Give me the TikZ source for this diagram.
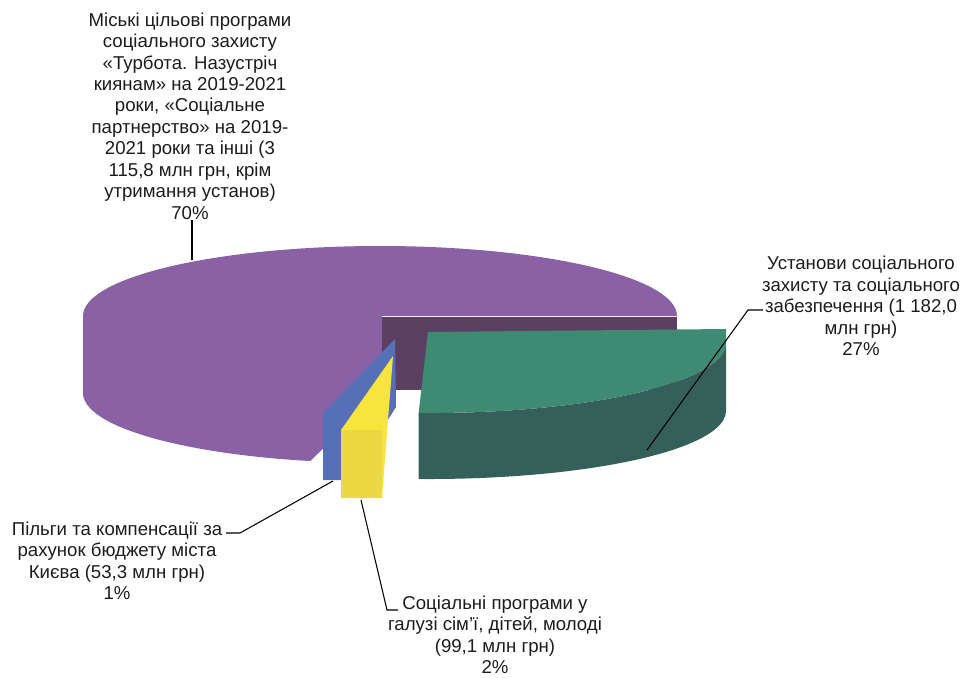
\documentclass[tikz,border=0pt]{standalone}
\usepackage{fontspec}
\setmainfont{Liberation Sans}
\definecolor{purpleslice}{HTML}{8B61A6}
\definecolor{purplecut}{HTML}{5C4062}
\definecolor{greentop}{HTML}{3F8A73}
\definecolor{greenside}{HTML}{35605A}
\definecolor{blueslice}{HTML}{5670B8}
\definecolor{yellowtop}{HTML}{F7E43C}
\definecolor{yellowfront}{HTML}{ECD842}
\definecolor{labeltext}{HTML}{1C1C1C}

\begin{document}
\begin{tikzpicture}[x=0.02cm,y=-0.02cm,
  lbl/.style={align=center,text=labeltext,inner sep=0pt,font=\fontsize{10.6}{12.2}\selectfont},
  leader/.style={line width=0.6pt,black}]
  \useasboundingbox (0,0) rectangle (967,677);
   \coordinate (PurpleTip) at (192,260);
   \coordinate (GreenTip) at (647,450);
   \coordinate (GreenKnee) at (748,310);
   \coordinate (GreenEnd) at (763,310);
   \coordinate (BlueTip) at (333,481);
   \coordinate (BlueKnee) at (240,533);
   \coordinate (BlueEnd) at (226,533);
   \coordinate (YellowTip) at (361,500);
   \coordinate (YellowKnee) at (387,610);
   \coordinate (YellowEnd) at (398,610);
  % big slice, 70%
  \fill[purpleslice] (677,316) arc[start angle=0,end angle=-180,x radius=297,y radius=70]
     -- (83,393) arc[start angle=-180,end angle=-256.4,x radius=297,y radius=70]
     -- (382,392) -- (382,316) -- cycle;
  \fill[purplecut] (382,317) rectangle (677,390);
  % pulled out slice, 27%
  \fill[greentop] (428,332) -- (726,329) -- (726,343)
     arc[start angle=0,end angle=92,x radius=297,y radius=70] -- cycle;
  \fill[greenside] (726,343) -- (726,411) arc[start angle=0,end angle=92,x radius=297,y radius=68]
     -- (418.6,413) arc[start angle=92,end angle=0,x radius=297,y radius=70] -- cycle;
  % the two thin ones
  \fill[blueslice] (323,413) -- (395,339) -- (396,407) -- (350,480) -- (323,480) -- cycle;
  \fill[yellowtop] (341,430) -- (393,356) -- (382,498) -- (341,498) -- cycle;
  \fill[yellowfront] (341,430) rectangle (382,498);
  % labels
  \node[lbl] (Turbota) at (190,116) {Міські цільові програми\\соціального захисту\\«Турбота. Назустріч\\киянам» на 2019-2021\\роки, «Соціальне\\партнерство» на 2019-\\2021 роки та інші (3\\115,8 млн грн, крім\\утримання установ)\\70\%};
  \node[lbl] (Ustanovy) at (861,306) {Установи соціального\\захисту та соціального\\забезпечення (1 182,0\\млн грн)\\27\%};
  \node[lbl] (Pilgy) at (117,561) {Пільги та компенсації за\\рахунок бюджету міста\\Києва (53,3 млн грн)\\1\%};
  \node[lbl] (Simi) at (495,635) {Соціальні програми у\\галузі сім’ї, дітей, молоді\\(99,1 млн грн)\\2\%};
  % leader lines
  \draw[leader] (Turbota.south -| PurpleTip) -- (PurpleTip);
  \draw[leader] (GreenTip) -- (GreenKnee) -- (GreenEnd);
  \draw[leader] (BlueTip) -- (BlueKnee) -- (BlueEnd);
  \draw[leader] (YellowTip) -- (YellowKnee) -- (YellowEnd);
\end{tikzpicture}
\end{document}
